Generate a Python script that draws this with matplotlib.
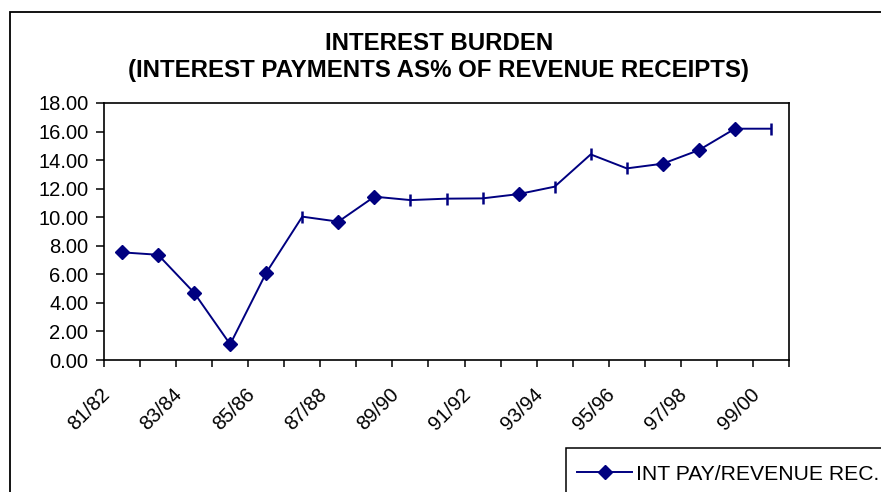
import numpy as np
import matplotlib.pyplot as plt
from matplotlib.patches import Rectangle
from matplotlib.lines import Line2D
import matplotlib.transforms as mtransforms

plt.rcParams['font.family'] = ['Liberation Sans', 'DejaVu Sans']

# fiscal years, one category each
years = ['81/82', '82/83', '83/84', '84/85', '85/86', '86/87', '87/88',
         '88/89', '89/90', '90/91', '91/92', '92/93', '93/94', '94/95',
         '95/96', '96/97', '97/98', '98/99', '99/00']
# interest payments as % of revenue receipts
int_pay_pct = [7.54, 7.37, 4.71, 1.10, 6.11, 10.04, 9.69, 11.44, 11.20,
               11.30, 11.32, 11.62, 12.14, 14.40, 13.42, 13.75, 14.70,
               16.20, 16.20]
# the points that came out as a bar instead of a diamond in the original
bar_marker_idx = [5, 8, 9, 10, 12, 13, 14, 18]
yticks = [0, 2, 4, 6, 8, 10, 12, 14, 16, 18]

navy = '#000080'
W, H = 881, 492

fig = plt.figure(figsize=(W / 100, H / 100), dpi=100)
ax = fig.add_axes([104 / W, 1 - 360 / H, 685 / W, 257 / H])

x = np.arange(len(years))
vals = np.array(int_pay_pct)
ax.plot(x, vals, color=navy, lw=1.4, zorder=3)

diamond_idx = [i for i in x if i not in bar_marker_idx]
ax.plot(x[diamond_idx], vals[diamond_idx], ls='none',
        marker='D', ms=7, color=navy, zorder=4)
ax.plot(x[bar_marker_idx], vals[bar_marker_idx], ls='none',
        marker='|', ms=9, mew=1.8, color=navy, zorder=4)

ax.set_xlim(-0.5, len(years) - 0.5)
ax.set_ylim(0, 18)

# y axis
ax.set_yticks(yticks)
ax.set_yticklabels([f'{v:.2f}' for v in yticks])
ax.tick_params(axis='y', direction='out', length=5.8, width=1.1, pad=5.5,
               labelsize=14.5, colors='black')

# x axis: tick marks between categories, labels on every other category
ax.set_xticks(x[::2])
ax.set_xticklabels(years[::2], rotation=45, ha='right')
ax.set_xticks(np.arange(-0.5, len(years), 1.0), minor=True)
ax.tick_params(axis='x', which='major', length=0, pad=17.5, labelsize=14.5)
ax.tick_params(axis='x', which='minor', direction='out', length=5, width=1.1)
shift = mtransforms.ScaledTranslation(-8 / 100, 0, fig.dpi_scale_trans)
for lab in ax.get_xticklabels():
    lab.set_transform(lab.get_transform() + shift)

for sp in ax.spines.values():
    sp.set_linewidth(1.2)
    sp.set_color('black')

# title
fig.text(439 / W, 1 - 50.5 / H, 'INTEREST BURDEN', ha='center',
         va='baseline', fontsize=17.3, fontweight='bold')
fig.text(439 / W, 1 - 77.5 / H, '(INTEREST PAYMENTS AS% OF REVENUE RECEIPTS)',
         ha='center', va='baseline', fontsize=17.3, fontweight='bold')

# outer chart frame, runs off the right and bottom edges
fig.patches.append(Rectangle((9.5 / W, -0.2), 1.2, 1 - 12 / H + 0.2,
                             transform=fig.transFigure, fill=False,
                             ec='black', lw=1.3))

# legend box, also cut off by the edge
fig.patches.append(Rectangle((566 / W, -0.2), 1.0, 1 - 448 / H + 0.2,
                             transform=fig.transFigure, fill=False,
                             ec='black', lw=1.1))
handle = Line2D([], [], color=navy, lw=1.4, marker='D', ms=7)
leg = fig.legend([handle], ['INT PAY/REVENUE REC.'], loc='center left',
                 bbox_to_anchor=(571 / W, 1 - 474 / H),
                 bbox_transform=fig.transFigure, borderaxespad=0,
                 fontsize=15.2, frameon=False,
                 handlelength=2.6, handletextpad=0.2, borderpad=0.3)

fig.savefig('out.png', dpi=100)
